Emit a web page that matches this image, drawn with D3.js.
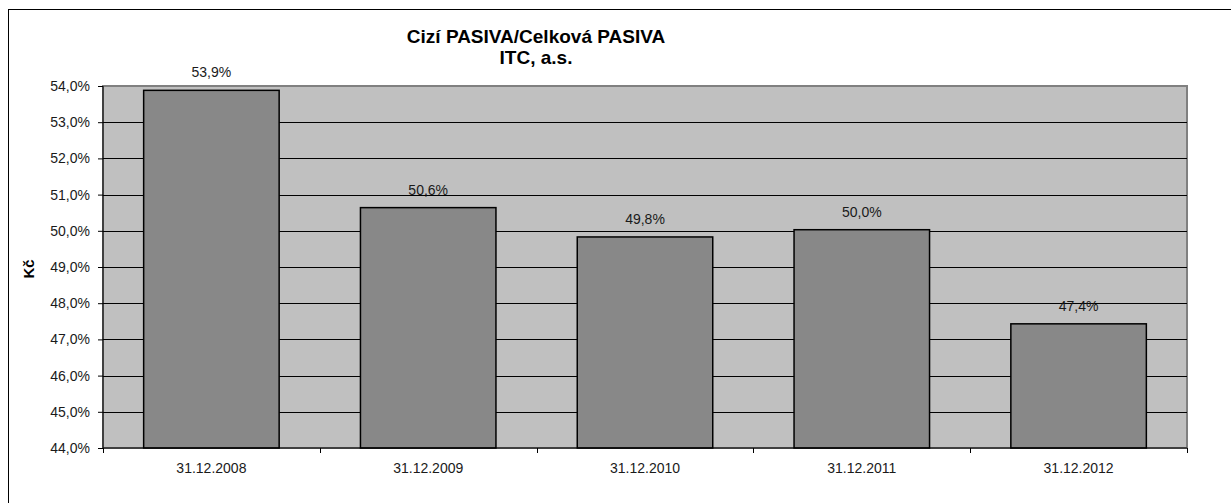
<!DOCTYPE html>
<html>
<head>
<meta charset="utf-8">
<script src="https://cdn.jsdelivr.net/npm/d3@7"></script>
<style>
  body { margin: 0; background: #fff; }
  svg text { font-family: "Liberation Sans", Arial, sans-serif; }
</style>
</head>
<body>
<svg id="chart" width="1231" height="503"></svg>
<script>
// data
var categories = ["31.12.2008", "31.12.2009", "31.12.2010", "31.12.2011", "31.12.2012"];
var values = [53.88, 50.64, 49.83, 50.03, 47.43];
var yTicks = [44, 45, 46, 47, 48, 49, 50, 51, 52, 53, 54];
var titleLines = ["Cizí PASIVA/Celková PASIVA", "ITC, a.s."];
var yTitle = "Kč";

var svg = d3.select("#chart");
var m = {left: 103, top: 86, right: 1187, bottom: 448};

var fmt = function(v) { return d3.format(".1f")(v).replace(".", ",") + "%"; };

// outer chart border (runs off the picture to the right and bottom)
svg.append("rect")
    .attr("x", 8.5).attr("y", 9.5)
    .attr("width", 1300).attr("height", 600)
    .attr("fill", "#fff").attr("stroke", "#000");

var x = d3.scaleBand()
    .domain(categories)
    .range([m.left, m.right])
    .paddingInner(0.375)
    .paddingOuter(0.1875);

var y = d3.scaleLinear()
    .domain([44, 54])
    .range([m.bottom, m.top]);

// plot area
svg.append("rect")
    .attr("x", m.left).attr("y", m.top)
    .attr("width", m.right - m.left).attr("height", m.bottom - m.top)
    .attr("fill", "#c0c0c0")
    .attr("stroke", "#808080").attr("stroke-width", 2);

// gridlines
svg.append("g").selectAll("line")
    .data(yTicks.filter(function(d) { return d > 44 && d < 54; }))
    .enter().append("line")
    .attr("x1", m.left).attr("x2", m.right)
    .attr("y1", function(d) { return Math.round(y(d)) + 0.5; })
    .attr("y2", function(d) { return Math.round(y(d)) + 0.5; })
    .attr("stroke", "#000");

// bars
svg.append("g").selectAll("rect")
    .data(values)
    .enter().append("rect")
    .attr("x", function(d, i) { return x(categories[i]); })
    .attr("y", function(d) { return y(d); })
    .attr("width", x.bandwidth())
    .attr("height", function(d) { return m.bottom - y(d); })
    .attr("fill", "#888888")
    .attr("stroke", "#000").attr("stroke-width", 1.5);

// value labels
svg.append("g").selectAll("text")
    .data(values)
    .enter().append("text")
    .attr("x", function(d, i) { return x(categories[i]) + x.bandwidth() / 2; })
    .attr("y", function(d) { return y(d) - 13; })
    .attr("text-anchor", "middle")
    .attr("font-size", 14)
    .attr("fill", "#1a1a1a")
    .text(fmt);

// y axis
var yAxis = svg.append("g")
    .attr("transform", "translate(" + m.left + ",0)")
    .call(d3.axisLeft(y).tickValues(yTicks).tickSize(5).tickPadding(8).tickFormat(fmt));
yAxis.selectAll("text").attr("font-size", 14).attr("fill", "#1a1a1a").style("font-family", "Liberation Sans, Arial, sans-serif");
yAxis.selectAll("line, path").attr("stroke", "#000");
yAxis.select(".domain").attr("d", "M0," + m.top + "V" + m.bottom);

// x axis
var xAxis = svg.append("g")
    .attr("transform", "translate(0," + m.bottom + ")")
    .call(d3.axisBottom(x).tickSize(0).tickPadding(15));
xAxis.selectAll("text").attr("font-size", 14).attr("fill", "#1a1a1a").style("font-family", "Liberation Sans, Arial, sans-serif");
xAxis.select(".domain").attr("stroke", "#000").attr("d", "M" + m.left + ",0H" + m.right);

// category separator ticks
var sepX = d3.range(categories.length + 1).map(function(i) { return m.left + i * x.step(); });
xAxis.selectAll(".sep")
    .data(sepX)
    .enter().append("line")
    .attr("x1", function(d) { return Math.round(d) + 0.5; })
    .attr("x2", function(d) { return Math.round(d) + 0.5; })
    .attr("y1", 0).attr("y2", 5)
    .attr("stroke", "#000");

// y axis title
svg.append("text")
    .attr("transform", "translate(34," + ((m.top + m.bottom) / 2 + 2) + ") rotate(-90)")
    .attr("text-anchor", "middle")
    .attr("font-size", 15)
    .attr("font-weight", "bold")
    .text(yTitle);

// chart title
svg.append("g").selectAll("text")
    .data(titleLines)
    .enter().append("text")
    .attr("x", 536)
    .attr("y", function(d, i) { return 43 + i * 21; })
    .attr("text-anchor", "middle")
    .attr("font-size", 19)
    .attr("font-weight", "bold")
    .text(function(d) { return d; });
</script>
</body>
</html>
